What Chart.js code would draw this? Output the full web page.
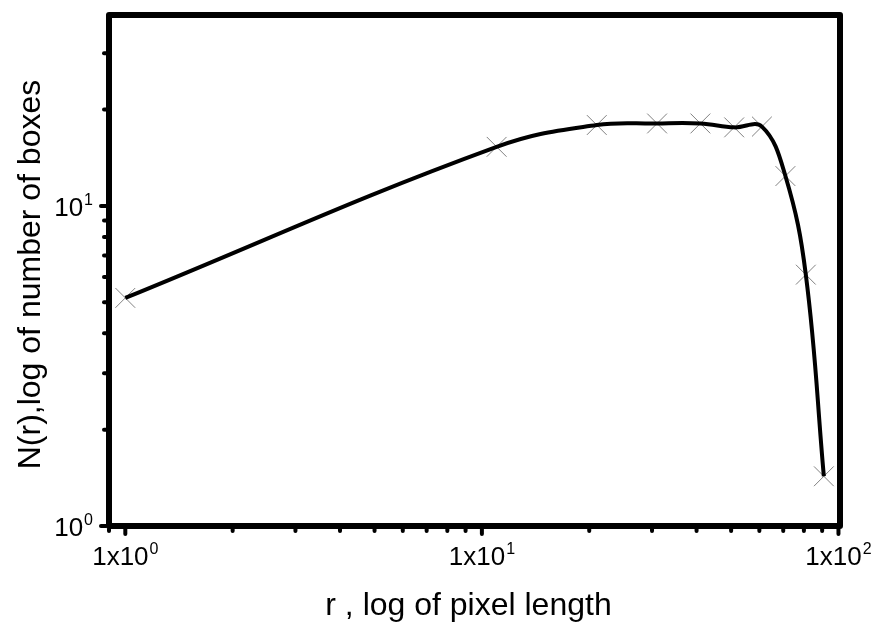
<!DOCTYPE html>
<html>
<head>
<meta charset="utf-8">
<title>Box counting</title>
<script src="https://cdn.jsdelivr.net/npm/chart.js@4.4.1/dist/chart.umd.min.js"></script>
<style>
  html, body { margin: 0; padding: 0; background: #fff; }
  #wrap { width: 878px; height: 623px; }
</style>
</head>
<body>
<div id="wrap"><canvas id="boxChart" width="878" height="623"></canvas></div>
<script>
// data
const rValues = [1, 11, 21, 31, 41, 51, 61, 71, 81, 91];
const nValues = [5.16, 15.3, 17.9, 18.1, 18.1, 17.6, 17.7, 12.4, 6.1, 1.43];

// tick labels: [base, exponent]
const xTickValues = [1, 10, 100];
const xTickLabels = [['1x10', '0'], ['1x10', '1'], ['1x10', '2']];
const yTickValues = [1, 10];
const yTickLabels = [['10', '0'], ['10', '1']];

const xTitle = 'r , log of pixel length';
const yTitle = 'N(r),log of number of boxes';

const FONT = '"Liberation Sans", Arial, sans-serif';

function isDecadeStep(v) {
    const e = Math.floor(Math.log10(v) + 1e-9);
    const s = v / Math.pow(10, e);
    return Math.abs(s - Math.round(s)) < 1e-6;
}
function isMajor(v) {
    const l = Math.log10(v);
    return Math.abs(l - Math.round(l)) < 1e-6;
}

// draw a label like 1x10^0 with a raised exponent
function drawSupLabel(ctx, base, exp, x, y, align) {
    ctx.font = '26px ' + FONT;
    const wb = ctx.measureText(base).width;
    ctx.font = '16px ' + FONT;
    const we = ctx.measureText(exp).width;
    const total = wb + we + 1;
    let left = x;
    if (align === 'center') left = x - total / 2;
    if (align === 'right') left = x - total;
    ctx.textAlign = 'left';
    ctx.textBaseline = 'alphabetic';
    ctx.font = '26px ' + FONT;
    ctx.fillText(base, left, y);
    ctx.font = '16px ' + FONT;
    ctx.fillText(exp, left + wb + 1, y - 11);
}

const framePlugin = {
    id: 'frame',
    afterDraw(chart) {
        const ctx = chart.ctx;
        const a = chart.chartArea;
        const xs = chart.scales.x;
        const ys = chart.scales.y;
        ctx.save();
        ctx.strokeStyle = '#000';
        ctx.fillStyle = '#000';

        // thick frame
        ctx.lineWidth = 6;
        ctx.lineJoin = 'round';
        ctx.strokeRect(a.left, a.top, a.right - a.left, a.bottom - a.top);

        // outward ticks
        ctx.lineWidth = 4;
        ctx.lineCap = 'round';
        xs.ticks.forEach(t => {
            if (!isDecadeStep(t.value)) return;
            const px = xs.getPixelForValue(t.value);
            if (px < a.left - 1 || px > a.right + 1) return;
            const len = isMajor(t.value) ? 5 : 2;
            ctx.beginPath();
            ctx.moveTo(px, a.bottom + 3);
            ctx.lineTo(px, a.bottom + 3 + len);
            ctx.stroke();
        });
        ys.ticks.forEach(t => {
            if (!isDecadeStep(t.value)) return;
            const py = ys.getPixelForValue(t.value);
            if (py < a.top - 1 || py > a.bottom + 1) return;
            const len = isMajor(t.value) ? 5 : 2;
            ctx.beginPath();
            ctx.moveTo(a.left - 3, py);
            ctx.lineTo(a.left - 3 - len, py);
            ctx.stroke();
        });

        // tick labels
        xTickValues.forEach((v, i) => {
            const px = xs.getPixelForValue(v);
            drawSupLabel(ctx, xTickLabels[i][0], xTickLabels[i][1], px, a.bottom + 39, 'center');
        });
        yTickValues.forEach((v, i) => {
            const py = ys.getPixelForValue(v);
            drawSupLabel(ctx, yTickLabels[i][0], yTickLabels[i][1], a.left - 16, py + 10, 'right');
        });

        // axis titles
        ctx.font = '32px ' + FONT;
        ctx.textAlign = 'center';
        ctx.textBaseline = 'alphabetic';
        ctx.fillText(xTitle, (a.left + a.right) / 2 - 6, 615);

        ctx.translate(40, (a.top + a.bottom) / 2 + 4);
        ctx.rotate(-Math.PI / 2);
        ctx.fillText(yTitle, 0, 0);
        ctx.restore();
    }
};

const ctx = document.getElementById('boxChart').getContext('2d');
new Chart(ctx, {
    type: 'line',
    data: {
        datasets: [
            {
                label: 'curve',
                data: rValues.map((r, i) => ({ x: r, y: nValues[i] })),
                borderColor: '#000',
                borderWidth: 4,
                tension: 0.4,
                pointRadius: 0,
                fill: false,
                order: 0
            },
            {
                label: 'points',
                data: rValues.map((r, i) => ({ x: r, y: nValues[i] })),
                showLine: false,
                pointStyle: 'crossRot',
                pointRadius: 14,
                pointBorderColor: '#808080',
                pointBorderWidth: 1,
                order: 1
            }
        ]
    },
    plugins: [framePlugin],
    options: {
        responsive: false,
        animation: false,
        layout: { padding: { left: 109, right: 38, top: 15, bottom: 97 } },
        plugins: {
            legend: { display: false },
            tooltip: { enabled: false }
        },
        scales: {
            x: { type: 'logarithmic', min: 0.9, max: 101, display: false },
            y: { type: 'logarithmic', min: 1, max: 39.5, display: false }
        }
    }
});
</script>
</body>
</html>
